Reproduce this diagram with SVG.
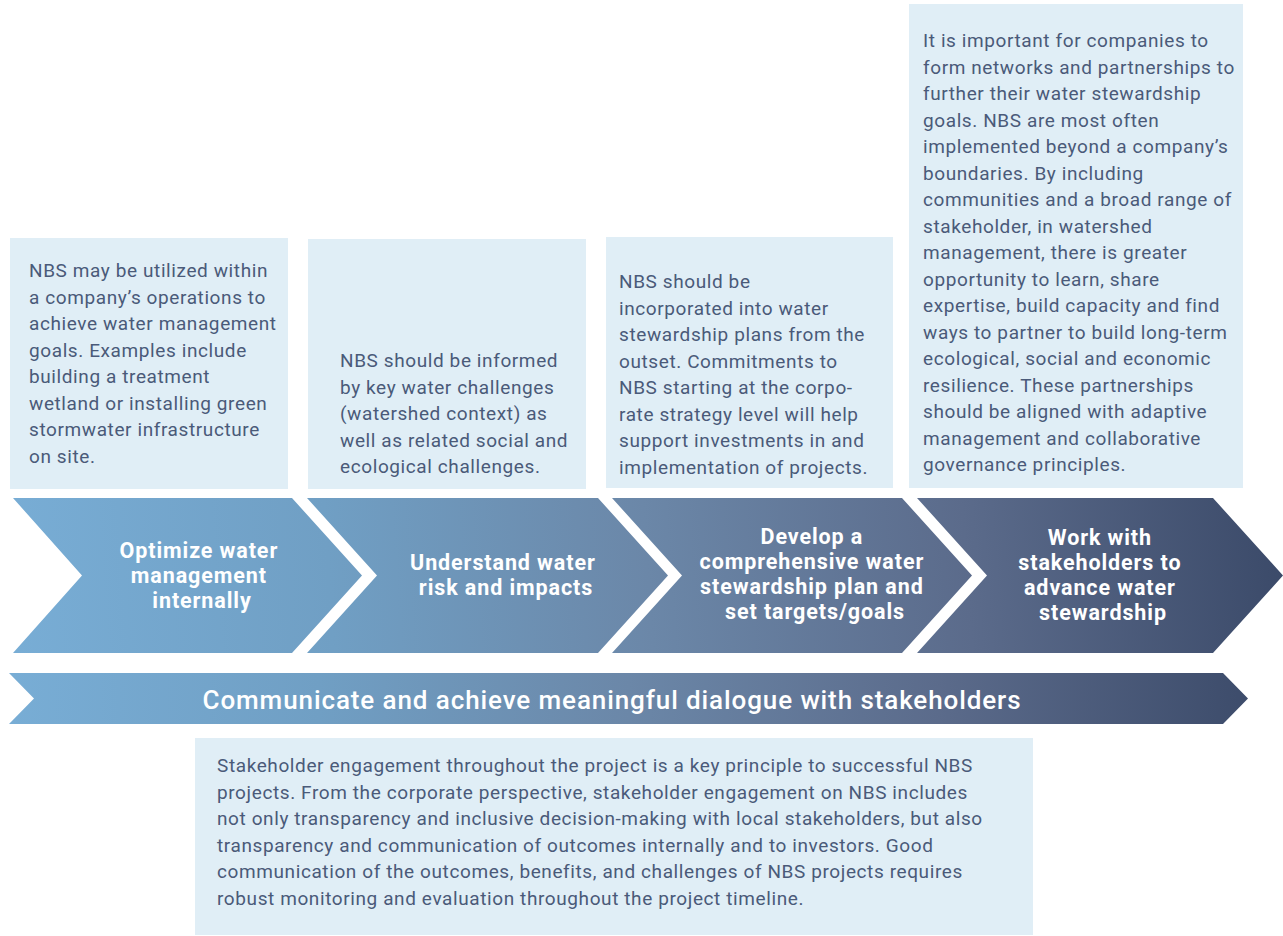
<svg xmlns="http://www.w3.org/2000/svg" width="1283" height="936" viewBox="0 0 1283 936">
  <defs>
    <linearGradient id="flow" gradientUnits="userSpaceOnUse" x1="13" y1="620" x2="1283" y2="530">
      <stop offset="0" stop-color="#78add5"/>
      <stop offset="0.25" stop-color="#709fc4"/>
      <stop offset="0.5" stop-color="#6b87a8"/>
      <stop offset="0.75" stop-color="#5b6b8b"/>
      <stop offset="1" stop-color="#3b4a69"/>
    </linearGradient>
    <linearGradient id="band" gradientUnits="userSpaceOnUse" x1="9" y1="698" x2="1248" y2="698">
      <stop offset="0" stop-color="#78add5"/>
      <stop offset="0.25" stop-color="#709fc4"/>
      <stop offset="0.5" stop-color="#6b87a8"/>
      <stop offset="0.75" stop-color="#5b6b8b"/>
      <stop offset="1" stop-color="#3d4c6b"/>
    </linearGradient>
  </defs>
  <style>
    .box { fill: #e0eef6; }
    .body { font-family: Roboto, "Liberation Sans", sans-serif; font-size: 19px; letter-spacing: 0.6px; fill: #4a5a79; }
    .step { fill: url(#flow); }
    .head { font-family: Roboto, "Liberation Sans", sans-serif; font-size: 21.5px; font-weight: 700; letter-spacing: 0.9px; fill: #ffffff; text-anchor: middle; }
    .bandtxt { font-family: Roboto, "Liberation Sans", sans-serif; font-size: 26px; font-weight: 500; letter-spacing: 0.9px; fill: #ffffff; text-anchor: middle; }
  </style>

  <!-- description boxes above the steps -->
  <g id="note-optimize">
    <rect class="box" x="10" y="238" width="278" height="251"/>
    <text class="body">
      <tspan x="29" y="277">NBS may be utilized within</tspan>
      <tspan x="29" y="303.5">a company’s operations to</tspan>
      <tspan x="29" y="330">achieve water management</tspan>
      <tspan x="29" y="356.5">goals. Examples include</tspan>
      <tspan x="29" y="383">building a treatment</tspan>
      <tspan x="29" y="409.5">wetland or installing green</tspan>
      <tspan x="29" y="436">stormwater infrastructure</tspan>
      <tspan x="29" y="462.5">on site.</tspan>
    </text>
  </g>

  <g id="note-understand">
    <rect class="box" x="308" y="239" width="278" height="250"/>
    <text class="body">
      <tspan x="340" y="367">NBS should be informed</tspan>
      <tspan x="340" y="393.5">by key water challenges</tspan>
      <tspan x="340" y="420">(watershed context) as</tspan>
      <tspan x="340" y="446.5">well as related social and</tspan>
      <tspan x="340" y="473">ecological challenges.</tspan>
    </text>
  </g>

  <g id="note-develop">
    <rect class="box" x="606" y="237" width="287" height="251"/>
    <text class="body">
      <tspan x="619" y="288">NBS should be</tspan>
      <tspan x="619" y="314.5">incorporated into water</tspan>
      <tspan x="619" y="341">stewardship plans from the</tspan>
      <tspan x="619" y="367.5">outset. Commitments to</tspan>
      <tspan x="619" y="394">NBS starting at the corpo-</tspan>
      <tspan x="619" y="420.5">rate strategy level will help</tspan>
      <tspan x="619" y="447">support investments in and</tspan>
      <tspan x="619" y="473.5">implementation of projects.</tspan>
    </text>
  </g>

  <g id="note-stakeholders">
    <rect class="box" x="909" y="4" width="334" height="484"/>
    <text class="body">
      <tspan x="923" y="47">It is important for companies to</tspan>
      <tspan x="923" y="73.5">form networks and partnerships to</tspan>
      <tspan x="923" y="100">further their water stewardship</tspan>
      <tspan x="923" y="126.5">goals. NBS are most often</tspan>
      <tspan x="923" y="153">implemented beyond a company’s</tspan>
      <tspan x="923" y="179.5">boundaries. By including</tspan>
      <tspan x="923" y="206">communities and a broad range of</tspan>
      <tspan x="923" y="232.5">stakeholder, in watershed</tspan>
      <tspan x="923" y="259">management, there is greater</tspan>
      <tspan x="923" y="285.5">opportunity to learn, share</tspan>
      <tspan x="923" y="312">expertise, build capacity and find</tspan>
      <tspan x="923" y="338.5">ways to partner to build long-term</tspan>
      <tspan x="923" y="365">ecological, social and economic</tspan>
      <tspan x="923" y="391.5">resilience. These partnerships</tspan>
      <tspan x="923" y="418">should be aligned with adaptive</tspan>
      <tspan x="923" y="444.5">management and collaborative</tspan>
      <tspan x="923" y="471">governance principles.</tspan>
    </text>
  </g>

  <!-- step chevrons -->
  <g id="step-optimize">
    <polygon class="step" points="13,498 292,498 362,575.5 292,653 13,653 82,575.5"/>
    <text class="head">
      <tspan x="202" y="558">Optimize water</tspan>
      <tspan x="202" y="583">management</tspan>
      <tspan x="202" y="608">internally</tspan>
    </text>
  </g>

  <g id="step-understand">
    <polygon class="step" points="307,498 598,498 668,575.5 598,653 307,653 377,575.5"/>
    <text class="head">
      <tspan x="506" y="570">Understand water</tspan>
      <tspan x="506" y="595">risk and impacts</tspan>
    </text>
  </g>

  <g id="step-develop">
    <polygon class="step" points="612,498 902,498 972,575.5 902,653 612,653 682,575.5"/>
    <text class="head">
      <tspan x="815" y="544">Develop a</tspan>
      <tspan x="815" y="569">comprehensive water</tspan>
      <tspan x="815" y="594">stewardship plan and</tspan>
      <tspan x="815" y="619">set targets/goals</tspan>
    </text>
  </g>

  <g id="step-stakeholders">
    <polygon class="step" points="917,498 1213,498 1283,575.5 1213,653 917,653 987,575.5"/>
    <text class="head">
      <tspan x="1103" y="545">Work with</tspan>
      <tspan x="1103" y="570">stakeholders to</tspan>
      <tspan x="1103" y="595">advance water</tspan>
      <tspan x="1103" y="620">stewardship</tspan>
    </text>
  </g>

  <!-- continuous communication band -->
  <g id="band-communicate">
    <polygon fill="url(#band)" points="9,673 1223,673 1248,698.5 1223,724 9,724 34,698.5"/>
    <text class="bandtxt" x="612" y="709">Communicate and achieve meaningful dialogue with stakeholders</text>
  </g>

  <g id="note-communicate">
    <rect class="box" x="195" y="738" width="838" height="197"/>
    <text class="body">
      <tspan x="217" y="772">Stakeholder engagement throughout the project is a key principle to successful NBS</tspan>
      <tspan x="217" y="798.5">projects. From the corporate perspective, stakeholder engagement on NBS includes</tspan>
      <tspan x="217" y="825">not only transparency and inclusive decision-making with local stakeholders, but also</tspan>
      <tspan x="217" y="851.5">transparency and communication of outcomes internally and to investors. Good</tspan>
      <tspan x="217" y="878">communication of the outcomes, benefits, and challenges of NBS projects requires</tspan>
      <tspan x="217" y="904.5">robust monitoring and evaluation throughout the project timeline.</tspan>
    </text>
  </g>

  <!-- the chevrons abut each other directly; no separate connectors are drawn -->
  <g id="connectors"/>
</svg>
